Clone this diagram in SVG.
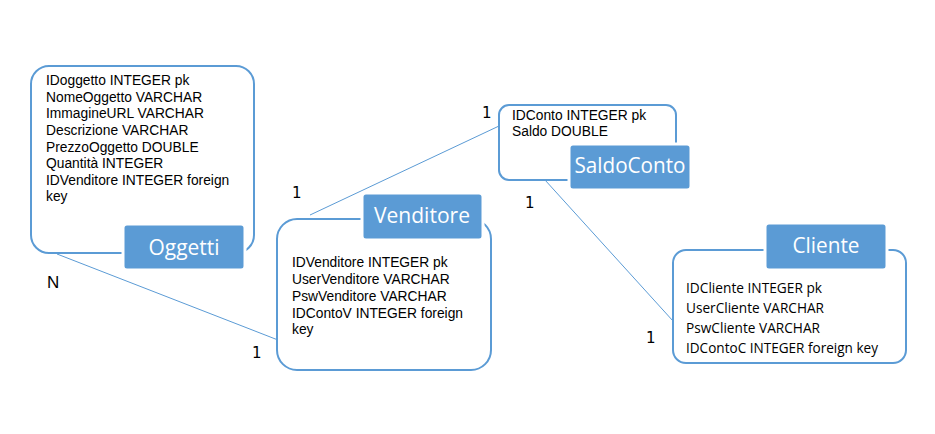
<svg xmlns="http://www.w3.org/2000/svg" width="935" height="434" viewBox="0 0 935 434">
<style>
.outer{fill:#fff;stroke:#5B9BD5;stroke-width:2}
.lab{fill:#5B9BD5;stroke:#fff;stroke-width:3}
.title{font-family:"Open Sans",Lato,sans-serif;font-size:22px;fill:#fff;text-anchor:middle}
.body{font-family:"Liberation Sans",Arial,sans-serif;font-size:13.8px;fill:#000}
.cbody{font-family:"Open Sans",Lato,sans-serif;font-size:13.6px;fill:#000}
.conn{stroke:#5B9BD5;stroke-width:1;fill:none}
.card{font-family:"DejaVu Sans",sans-serif;font-size:15px;fill:#000}
.cardn{font-family:"Liberation Sans",Arial,sans-serif;font-size:17px;fill:#000}
</style>
<rect width="935" height="434" fill="#fff"/>
<g id="connectors">
<line class="conn" x1="57" y1="254" x2="278" y2="340"/>
<line class="conn" x1="310" y1="215" x2="499" y2="126"/>
<line class="conn" x1="545" y1="180" x2="673" y2="321"/>
<text class="cardn" x="47" y="288">N</text>
<text class="card" x="252" y="358">1</text>
<text class="card" x="292" y="198">1</text>
<text class="card" x="482" y="118">1</text>
<text class="card" x="525" y="208">1</text>
<text class="card" x="646" y="343">1</text>
</g>
<g id="oggetti">
<rect class="outer" x="31" y="66" width="223" height="187" rx="18"/>
<text class="body" x="46" y="85">IDoggetto INTEGER pk</text>
<text class="body" x="46" y="101.7">NomeOggetto VARCHAR</text>
<text class="body" x="46" y="118.3">ImmagineURL VARCHAR</text>
<text class="body" x="46" y="135">Descrizione VARCHAR</text>
<text class="body" x="46" y="151.7">PrezzoOggetto DOUBLE</text>
<text class="body" x="46" y="168.3">Quantità INTEGER</text>
<text class="body"><tspan x="46" y="184.5">IDVenditore INTEGER foreign</tspan><tspan x="46" y="200.5">key</tspan></text>
<rect class="lab" x="123" y="224" width="122" height="46" rx="4"/>
<text class="title" x="184" y="255" textLength="71" lengthAdjust="spacingAndGlyphs">Oggetti</text>
</g>
<g id="venditore">
<rect class="outer" x="277" y="219" width="214" height="151" rx="20"/>
<rect class="lab" x="362" y="193" width="121" height="47" rx="4"/>
<text class="title" x="422" y="223" textLength="96" lengthAdjust="spacingAndGlyphs">Venditore</text>
<text class="body" x="292" y="267">IDVenditore INTEGER pk</text>
<text class="body" x="292" y="284">UserVenditore VARCHAR</text>
<text class="body" x="292" y="301">PswVenditore VARCHAR</text>
<text class="body"><tspan x="292" y="317.5">IDContoV INTEGER foreign</tspan><tspan x="292" y="333.5">key</tspan></text>
</g>
<g id="saldoconto">
<rect class="outer" x="499" y="105" width="177" height="75" rx="10"/>
<text class="body" x="512" y="120">IDConto INTEGER pk</text>
<text class="body" x="512" y="136">Saldo DOUBLE</text>
<rect class="lab" x="569" y="144" width="122" height="46" rx="4"/>
<text class="title" x="630" y="173" textLength="111" lengthAdjust="spacingAndGlyphs">SaldoConto</text>
</g>
<g id="cliente">
<rect class="outer" x="673" y="250" width="233" height="113" rx="13"/>
<rect class="lab" x="765" y="223" width="122" height="47" rx="4"/>
<text class="title" x="826" y="253" textLength="67" lengthAdjust="spacingAndGlyphs">Cliente</text>
<text class="cbody" x="686" y="293" textLength="136" lengthAdjust="spacingAndGlyphs">IDCliente INTEGER pk</text>
<text class="cbody" x="686" y="313" textLength="138" lengthAdjust="spacingAndGlyphs">UserCliente VARCHAR</text>
<text class="cbody" x="686" y="333" textLength="134" lengthAdjust="spacingAndGlyphs">PswCliente VARCHAR</text>
<text class="cbody" x="686" y="353" textLength="192" lengthAdjust="spacingAndGlyphs">IDContoC INTEGER foreign key</text>
</g>
</svg>
